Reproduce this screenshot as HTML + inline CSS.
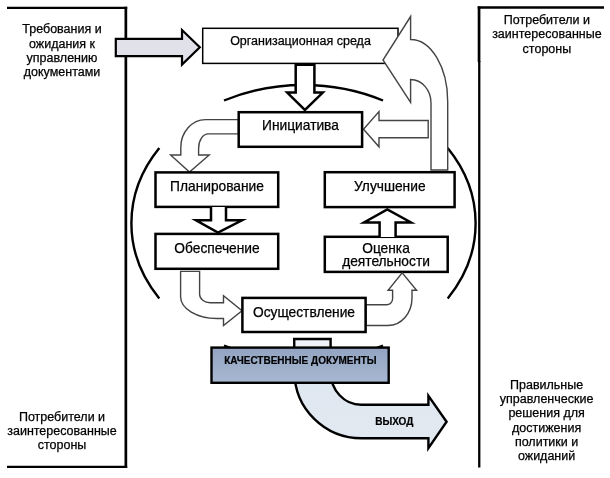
<!DOCTYPE html>
<html lang="ru">
<head>
<meta charset="utf-8">
<title>Модель системы управления документами</title>
<style>
html,body{margin:0;padding:0;background:#fff;}
body{width:610px;height:478px;overflow:hidden;}
svg{display:block;will-change:transform;}
text{font-family:"Liberation Sans",Arial,sans-serif;fill:#000;stroke:#000;stroke-width:0.25px;}
.lbl{font-size:12.5px;text-anchor:middle;}
.box{font-size:13.75px;text-anchor:middle;}
.cap{font-size:10px;font-weight:bold;text-anchor:middle;stroke-width:0.2px;}
.thick{stroke:#000;stroke-width:2.5;fill:#fff;stroke-linejoin:miter;stroke-miterlimit:10;}
.thin{stroke:#444;stroke-width:1.4;fill:#fff;stroke-linejoin:miter;}
.arc{stroke:#000;stroke-width:2.4;fill:none;stroke-linecap:butt;}
.br{stroke:#000;stroke-width:2.6;fill:none;stroke-linejoin:miter;}
</style>
</head>
<body>
<svg width="610" height="478" viewBox="0 0 610 478">
<defs>
<linearGradient id="gdoc" x1="0" y1="0" x2="0" y2="1">
<stop offset="0" stop-color="#92a4c2"/><stop offset="1" stop-color="#a8b8d1"/>
</linearGradient>
<linearGradient id="gout" gradientUnits="userSpaceOnUse" x1="0" y1="339" x2="0" y2="450">
<stop offset="0" stop-color="#f1f4f8"/><stop offset="0.4" stop-color="#dfe7f0"/><stop offset="1" stop-color="#e2e9f1"/>
</linearGradient>
</defs>
<rect width="610" height="478" fill="#fff"/>

<!-- side brackets -->
<path d="M7 7.8 H127.2 M7 466.8 H127.2" stroke="#000" stroke-width="2.2" fill="none"/>
<path d="M125.85 6.7 V467.9" stroke="#000" stroke-width="2.7" fill="none"/>
<path d="M604 7.5 H477.7" stroke="#000" stroke-width="2.3" fill="none"/>
<path d="M479.05 6.4 V62" stroke="#000" stroke-width="2.7" fill="none"/>
<path d="M479.25 61 V467.6" stroke="#000" stroke-width="2.3" fill="none"/>

<!-- ellipse arcs -->
<path class="arc" d="M224 100.5 A172.5 138 0 0 1 383 100.5"/>
<path class="arc" d="M159.3 148 A172.5 138 0 0 0 159.3 298.5"/>
<path class="arc" d="M447.7 148 A172.5 138 0 0 1 447.7 298.5"/>
<path class="arc" d="M224 345.5 A172.5 138 0 0 0 383 345.5"/>

<!-- organisational environment box -->
<rect x="202.7" y="28.3" width="195.3" height="35.1" fill="#fff" stroke="#000" stroke-width="1.5"/>

<!-- big curved arrow: improvement -> org environment -->
<path class="thin" d="M431 170 V103 A20.4 23.5 0 0 0 410.6 79.5 V102.5 L383 60 L410.6 16.5 V39.5 A37.1 62 0 0 1 447.7 101.5 V170 Z"/>

<!-- input arrow -->
<path d="M115.8 38.8 H182 V30 L199.8 47.3 L182 64.6 V56.1 H115.8 Z" fill="#e1e1ea" stroke="#000" stroke-width="2.2" stroke-linejoin="miter"/>

<!-- org -> initiative -->
<path class="thick" d="M295.7 64.8 H314.4 V92.6 H322.8 L304.9 110 L287.2 92.6 H295.7 Z"/>

<!-- improvement shaft -> initiative -->
<path class="thin" d="M428.2 120.5 H379 V111.5 L363.5 129.2 L379 146.8 V137.8 H428.2 Z"/>

<!-- initiative -> planning -->
<path class="thin" d="M238.5 119.6 H205.5 A24.7 28 0 0 0 180.8 147.6 V155 H170.6 L189.5 172 L209.2 155 H198.6 V148.5 A9.6 14.6 0 0 1 208.2 133.9 H238.5 Z"/>

<!-- boxes -->
<rect class="thick" x="238.7" y="112.2" width="123.4" height="34.6"/>
<rect class="thick" x="155.5" y="172.4" width="122.7" height="34.5"/>
<rect class="thick" x="155.5" y="233.9" width="122.7" height="34.9"/>
<rect class="thick" x="324.8" y="172.2" width="129.8" height="34.9"/>
<rect class="thick" x="324.8" y="236.8" width="122.9" height="35.1"/>

<!-- planning -> provision -->
<path class="thick" d="M211 207 V220.3 H196 L218 232.6 L242 220.3 H226 V207"/>
<!-- evaluation -> improvement -->
<path class="thick" d="M379.6 237 V222.5 H364 L387.3 209.4 L411 222.5 H395.6 V237"/>

<!-- provision -> implementation -->
<path class="thin" d="M180.6 271.4 H199.6 V294.3 A10.6 8.4 0 0 0 210.2 302.7 H223.5 V295.6 L242 310.7 L223.5 325.6 V318.5 H217 A36.5 21.7 0 0 1 180.6 296.8 Z"/>
<!-- implementation -> evaluation -->
<path class="thin" d="M366 304.8 H386.6 A6 6 0 0 0 392.6 298.8 V290.2 H388.1 L402.2 272.8 L416.6 290.2 H412 V298 A24 27.5 0 0 1 388 325.5 H366 Z"/>

<rect class="thick" x="242.4" y="297.9" width="123.2" height="34.1"/>

<!-- output arrow -->
<path d="M294.2 339 H330.6 V372 A30.5 32.8 0 0 0 361.3 404.8 H428.4 V395.8 L446.6 421.8 L428.4 448.2 V438.3 H361.8 A67.3 66.3 0 0 1 294.5 372 Z" fill="url(#gout)" stroke="#000" stroke-width="2.4" stroke-linejoin="miter"/>

<!-- quality documents -->
<rect x="211.5" y="347.6" width="177.2" height="35.2" fill="url(#gdoc)" stroke="#000" stroke-width="2.4"/>

<!-- texts -->
<text class="lbl" x="62" y="33">Требования и</text>
<text class="lbl" x="62" y="47.5">ожидания к</text>
<text class="lbl" x="62" y="61.9">управлению</text>
<text class="lbl" x="62" y="76.3">документами</text>

<text class="lbl" x="546.9" y="23.8">Потребители и</text>
<text class="lbl" x="546.9" y="38.2">заинтересованные</text>
<text class="lbl" x="546.9" y="52.6">стороны</text>

<text class="lbl" x="62" y="420.8">Потребители и</text>
<text class="lbl" x="62" y="435.1">заинтересованные</text>
<text class="lbl" x="62" y="449.4">стороны</text>

<text class="lbl" x="546.6" y="388.5">Правильные</text>
<text class="lbl" x="546.6" y="402.8">управленческие</text>
<text class="lbl" x="546.6" y="417.1">решения для</text>
<text class="lbl" x="546.6" y="431.5">достижения</text>
<text class="lbl" x="546.6" y="445.8">политики и</text>
<text class="lbl" x="546.6" y="460.1">ожиданий</text>

<text class="lbl" x="300.5" y="44.9">Организационная среда</text>
<text class="box" x="300.5" y="130.1">Инициатива</text>
<text class="box" x="217" y="190.8">Планирование</text>
<text class="box" x="217" y="252.6">Обеспечение</text>
<text class="box" x="389.8" y="190.8">Улучшение</text>
<text class="box" x="386" y="252.5">Оценка</text>
<text class="box" x="386" y="265.5">деятельности</text>
<text class="box" x="304" y="316.6">Осуществление</text>
<text class="cap" x="300.4" y="364.2">КАЧЕСТВЕННЫЕ ДОКУМЕНТЫ</text>
<text class="cap" x="394.3" y="424.8">ВЫХОД</text>
</svg>
</body>
</html>
